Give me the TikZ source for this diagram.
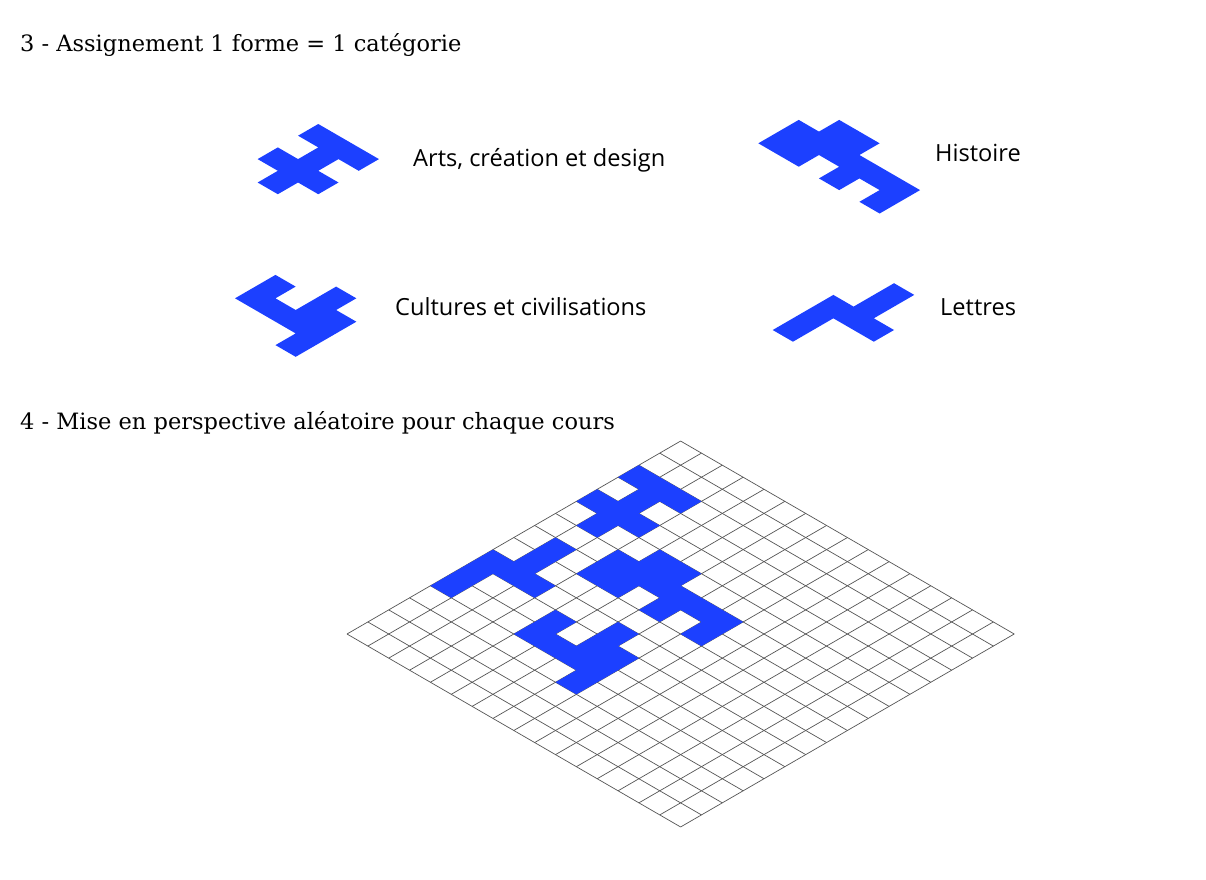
\documentclass[tikz,border=0pt]{standalone}
\usepackage{fontspec}
\setmainfont{DejaVu Serif}
\newfontfamily\etiquettefont{Open Sans}
\usetikzlibrary{positioning}

\definecolor{bleu}{RGB}{28,64,255}
\definecolor{gris}{RGB}{85,85,85}

\tikzset{
  forme/.style={fill=bleu},
  grille/.style={draw=gris, line width=0.7pt},
  titre/.style={anchor=west, inner sep=0pt, font=\fontsize{22.5}{27}\selectfont},
  etiquette/.style={anchor=west, inner sep=0pt, font=\etiquettefont\fontsize{23.6}{28}\selectfont},
  iso/.style={x={(20.85pt,12.06pt)}, y={(20.85pt,-12.06pt)}},
  petit/.style={x={(20.22pt,11.7pt)}, y={(20.22pt,-11.7pt)}}
}

% les quatre formes, en cases isometriques
\newcommand{\formeArts}{(4,0) -- (4,3) -- (3,3) -- (3,2) -- (2,2) -- (2,3) -- (1,3) -- (1,2) -- (0,2) -- (0,1) -- (1,1) -- (1,0) -- (2,0) -- (2,1) -- (3,1) -- (3,0) -- cycle}
\newcommand{\formeHistoire}{(0,0) -- (2,0) -- (2,1) -- (3,1) -- (3,3) -- (2,3) -- (2,6) -- (0,6) -- (0,5) -- (1,5) -- (1,4) -- (0,4) -- (0,3) -- (1,3) -- (1,2) -- (0,2) -- cycle}
\newcommand{\formeCultures}{(1,0) -- (3,0) -- (3,1) -- (2,1) -- (2,2) -- (4,2) -- (4,3) -- (3,3) -- (3,4) -- (0,4) -- (0,3) -- (1,3) -- cycle}
\newcommand{\formeLettres}{(0,0) -- (3,0) -- (3,1) -- (5,1) -- (5,2) -- (3,2) -- (3,3) -- (2,3) -- (2,1) -- (0,1) -- cycle}

\begin{document}
\begin{tikzpicture}[x=1pt, y=-1pt]
    \path[use as bounding box, fill=white] (0,0) rectangle (1206,879);

    \node[titre] (titre3) at (20,45) {3 - Assignement 1 forme = 1 catégorie};

    \fill[forme, shift={(237.4pt,-170.8pt)}, petit] \formeArts;
    \fill[forme, shift={(758.3pt,-143.3pt)}, petit] \formeHistoire;
    \fill[forme, shift={(214.8pt,-310pt)}, petit] \formeCultures;
    \fill[forme, shift={(772.7pt,-330pt)}, petit] \formeLettres;

    \node[etiquette] (arts) at (413,160) {Arts, création et design};
    \node[etiquette] (histoire) at (935,153) {Histoire};
    \node[etiquette] (cultures) at (395,307) {Cultures et civilisations};
    \node[etiquette] (lettres) at (940,307) {Lettres};

    \node[titre] (titre4) at (20,423) {4 - Mise en perspective aléatoire pour chaque cours};

    % grille 16 x 16
    \begin{scope}[shift={(347pt,-634pt)}, iso]
        \foreach \k in {0,...,16} {
            \draw[grille] (\k,0) -- (\k,16);
            \draw[grille] (0,\k) -- (16,\k);
        }
        \fill[forme, shift={(10,0)}] \formeArts;
        \fill[forme, shift={(8,3)}] \formeHistoire;
        \fill[forme, shift={(3,4)}] \formeCultures;
        \fill[forme, shift={(4,0)}] \formeLettres;
    \end{scope}

\end{tikzpicture}
\end{document}
